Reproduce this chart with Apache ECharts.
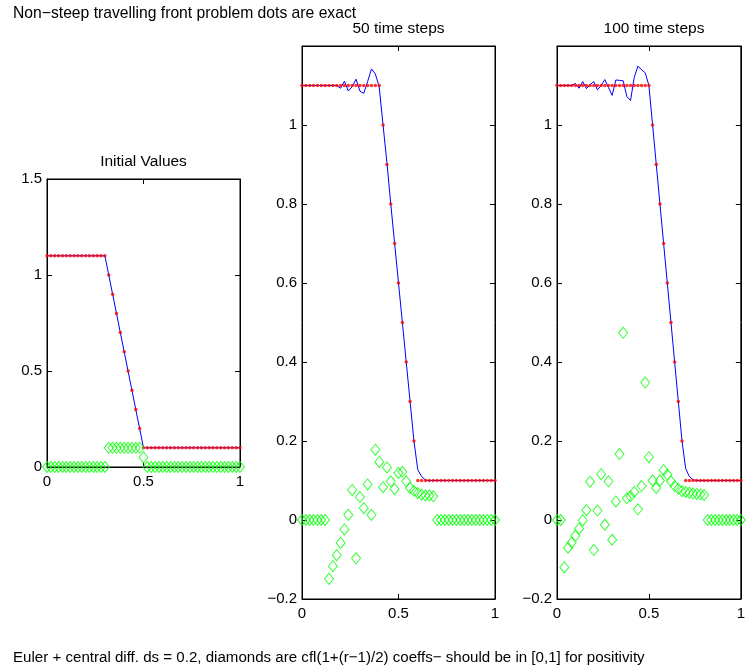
<!DOCTYPE html>
<html>
<head>
<meta charset="utf-8">
<script src="https://cdn.jsdelivr.net/npm/echarts@6/dist/echarts.min.js"></script>
<style>
html,body{margin:0;padding:0;background:#fff;}
#chart{width:748px;height:666px;}
</style>
</head>
<body>
<div id="chart"></div>
<script>
// grid points
const xs = [0,0.02,0.04,0.06,0.08,0.1,0.12,0.14,0.16,0.18,0.2,0.22,0.24,0.26,0.28,0.3,0.32,0.34,0.36,0.38,0.4,0.42,0.44,0.46,0.48,0.5,0.52,0.54,0.56,0.58,0.6,0.62,0.64,0.66,0.68,0.7,0.72,0.74,0.76,0.78,0.8,0.82,0.84,0.86,0.88,0.9,0.92,0.94,0.96,0.98,1];

// Initial values
const exact0 = [1.1,1.1,1.1,1.1,1.1,1.1,1.1,1.1,1.1,1.1,1.1,1.1,1.1,1.1,1.1,1.1,1.0,0.9,0.8,0.7,0.6,0.5,0.4,0.3,0.2,0.1,0.1,0.1,0.1,0.1,0.1,0.1,0.1,0.1,0.1,0.1,0.1,0.1,0.1,0.1,0.1,0.1,0.1,0.1,0.1,0.1,0.1,0.1,0.1,0.1,0.1];
const num0 = [1.1,1.1,1.1,1.1,1.1,1.1,1.1,1.1,1.1,1.1,1.1,1.1,1.1,1.1,1.1,1.1,1.0,0.9,0.8,0.7,0.6,0.5,0.4,0.3,0.2,0.1,0.1,0.1,0.1,0.1,0.1,0.1,0.1,0.1,0.1,0.1,0.1,0.1,0.1,0.1,0.1,0.1,0.1,0.1,0.1,0.1,0.1,0.1,0.1,0.1,0.1];
const coef0 = [0,0,0,0,0,0,0,0,0,0,0,0,0,0,0,0,0.1,0.1,0.1,0.1,0.1,0.1,0.1,0.1,0.1,0.05,0,0,0,0,0,0,0,0,0,0,0,0,0,0,0,0,0,0,0,0,0,0,0,0,0];

// 50 time steps
const exact50 = [1.1,1.1,1.1,1.1,1.1,1.1,1.1,1.1,1.1,1.1,1.1,1.1,1.1,1.1,1.1,1.1,1.1,1.1,1.1,1.1,1.1,1.0,0.9,0.8,0.7,0.6,0.5,0.4,0.3,0.2,0.1,0.1,0.1,0.1,0.1,0.1,0.1,0.1,0.1,0.1,0.1,0.1,0.1,0.1,0.1,0.1,0.1,0.1,0.1,0.1,0.1];
const num50 = [1.1,1.1,1.1,1.1,1.1,1.1,1.1,1.1,1.1,1.1,1.093,1.111,1.086,1.097,1.116,1.086,1.080,1.11,1.142,1.129,1.097,1.0,0.905,0.80,0.70,0.60,0.50,0.40,0.30,0.20,0.127,0.11,0.101,0.1,0.1,0.1,0.1,0.1,0.1,0.1,0.1,0.1,0.1,0.1,0.1,0.1,0.1,0.1,0.1,0.1,0.1];
const coef50 = [0,0,0,0,0,0,0,-0.149,-0.117,-0.089,-0.058,-0.024,0.013,0.076,-0.097,0.058,0.03,0.090,0.013,0.178,0.147,0.083,0.133,0.098,0.078,0.119,0.122,0.098,0.081,0.074,0.068,0.064,0.062,0.062,0.060,0,0,0,0,0,0,0,0,0,0,0,0,0,0,0,0];

// 100 time steps
const exact100 = [1.1,1.1,1.1,1.1,1.1,1.1,1.1,1.1,1.1,1.1,1.1,1.1,1.1,1.1,1.1,1.1,1.1,1.1,1.1,1.1,1.1,1.1,1.1,1.1,1.1,1.1,1.0,0.9,0.8,0.7,0.6,0.5,0.4,0.3,0.2,0.1,0.1,0.1,0.1,0.1,0.1,0.1,0.1,0.1,0.1,0.1,0.1,0.1,0.1,0.1,0.1];
const num100 = [1.1,1.1,1.1,1.1,1.1,1.105,1.093,1.110,1.092,1.102,1.110,1.089,1.10,1.115,1.095,1.075,1.114,1.113,1.112,1.072,1.062,1.12,1.149,1.14,1.132,1.1,1.0,0.9,0.8,0.7,0.6,0.5,0.4,0.3,0.2,0.13,0.11,0.102,0.1,0.1,0.1,0.1,0.1,0.1,0.1,0.1,0.1,0.1,0.1,0.1,0.1];
const coef100 = [0,0,-0.12,-0.07,-0.057,-0.04,-0.022,-0.001,0.025,0.097,-0.076,0.024,0.116,-0.012,0.098,-0.05,0.047,0.167,0.474,0.055,0.06,0.071,0.027,0.086,0.348,0.159,0.100,0.081,0.100,0.126,0.115,0.098,0.086,0.079,0.073,0.071,0.069,0.067,0.066,0.065,0.063,0,0,0,0,0,0,0,0,0,0];

const xTicks = [0, 0.5, 1];
const yTicks0 = [0, 0.5, 1, 1.5];
const yTicksT = [-0.2, 0, 0.2, 0.4, 0.6, 0.8, 1];

const titles = ['Initial Values', '50 time steps', '100 time steps'];
const topText = 'Non\u2212steep travelling front problem dots are exact';
const bottomText = 'Euler + central diff. ds = 0.2, diamonds are cfl(1+(r\u22121)/2) coeffs\u2212 should be in [0,1] for positivity';

const FONT = "'Liberation Sans', Arial, Helvetica, sans-serif";

const panels = [
  {grid:{left:47, top:179, width:193, height:288}, ymin:0, ymax:1.5, yint:0.5, yTicks:yTicks0, num:num0, exact:exact0, coef:coef0},
  {grid:{left:302, top:46, width:193, height:553}, ymin:-0.2, ymax:1.2, yint:0.2, yTicks:yTicksT, num:num50, exact:exact50, coef:coef50},
  {grid:{left:557, top:46, width:194, height:553}, ymin:-0.2, ymax:1.2, yint:0.2, yTicks:yTicksT, num:num100, exact:exact100, coef:coef100}
];

function fmt(v, list) {
  const r = Math.round(v*1000)/1000;
  if (!list.some(t => Math.abs(t - r) < 1e-9)) return '';
  return String(r).replace('-', '\u2212');
}

const grid = [], xAxis = [], yAxis = [], series = [];
panels.forEach((p, i) => {
  grid.push(Object.assign({show:true, borderColor:'#000', borderWidth:1, backgroundColor:'#fff', containLabel:false}, p.grid));
  const axLine = {show:true, onZero:false, lineStyle:{color:'#000', width:1}};
  const tick = {show:true, inside:true, length:5, lineStyle:{color:'#000', width:1}};
  xAxis.push({type:'value', gridIndex:i, position:'bottom', min:0, max:1, interval:0.5,
    axisLine:axLine, axisTick:tick, splitLine:{show:false},
    axisLabel:{show:true, color:'#000', fontSize:15, fontFamily:FONT, margin:7, formatter:v=>fmt(v, xTicks)}});
  xAxis.push({type:'value', gridIndex:i, position:'top', min:0, max:1, interval:0.5,
    axisLine:axLine, axisTick:tick, splitLine:{show:false}, axisLabel:{show:false}});
  yAxis.push({type:'value', gridIndex:i, position:'left', min:p.ymin, max:p.ymax, interval:p.yint,
    axisLine:axLine, axisTick:tick, splitLine:{show:false},
    axisLabel:{show:true, color:'#000', fontSize:15, fontFamily:FONT, margin:5, formatter:v=>fmt(v, p.yTicks)}});
  yAxis.push({type:'value', gridIndex:i, position:'right', min:p.ymin, max:p.ymax, interval:p.yint,
    axisLine:axLine, axisTick:tick, splitLine:{show:false}, axisLabel:{show:false}});

  const xi = 2*i, yi = 2*i;
  series.push({type:'line', xAxisIndex:xi, yAxisIndex:yi, data:xs.map((x,k)=>[x, p.num[k]]),
    showSymbol:false, symbol:'none', lineStyle:{color:'#0000ff', width:1}, z:2, silent:true});
  series.push({type:'scatter', xAxisIndex:xi, yAxisIndex:yi, data:xs.map((x,k)=>[x, p.exact[k]]),
    symbol:'circle', symbolSize:3.5, itemStyle:{color:'#ff0000'}, z:3, silent:true, clip:false});
  series.push({type:'scatter', xAxisIndex:xi, yAxisIndex:yi, data:xs.map((x,k)=>[x, p.coef[k]]),
    symbol:'diamond', symbolSize:[9,11], itemStyle:{color:'rgba(0,0,0,0)', borderColor:'#00ff00', borderWidth:1}, z:4, silent:true, clip:false});
});

const graphic = [
  {type:'text', left:13, top:6, style:{text:topText, font:'15.7px ' + FONT, fill:'#000'}},
  {type:'text', left:13, top:650, style:{text:bottomText, font:'15.1px ' + FONT, fill:'#000'}},
];
panels.forEach((p, i) => {
  graphic.push({type:'text', x:p.grid.left + p.grid.width/2, y:p.grid.top - 9,
    style:{text:titles[i], font:'15.5px ' + FONT, fill:'#000', textAlign:'center', textVerticalAlign:'bottom'}});
});

const chart = echarts.init(document.getElementById('chart'), null, {renderer:'canvas'});
chart.setOption({animation:false, backgroundColor:'#fff', grid, xAxis, yAxis, series, graphic});
</script>
</body>
</html>
